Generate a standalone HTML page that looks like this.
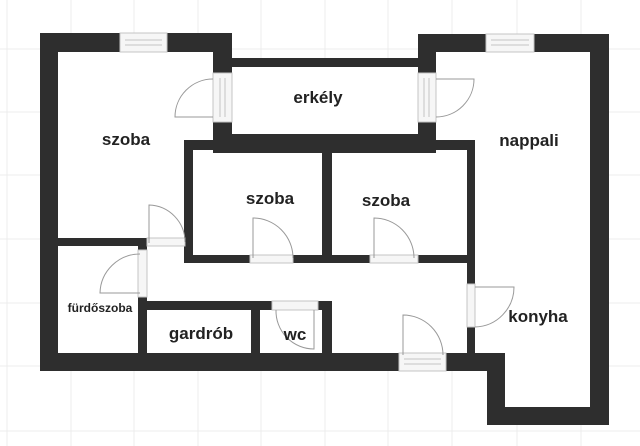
<!DOCTYPE html>
<html><head><meta charset="utf-8"><style>
html,body{margin:0;padding:0;background:#fff;}
svg{display:block;}
text{font-family:"Liberation Sans",sans-serif;font-weight:600;fill:#222;text-anchor:middle;}
</style></head><body>
<svg width="640" height="446" viewBox="0 0 640 446" xmlns="http://www.w3.org/2000/svg">
<g stroke="#ececec" stroke-width="1">
<line x1="7" y1="0" x2="7" y2="446"/><line x1="71" y1="0" x2="71" y2="446"/><line x1="134" y1="0" x2="134" y2="446"/><line x1="198" y1="0" x2="198" y2="446"/><line x1="261" y1="0" x2="261" y2="446"/><line x1="325" y1="0" x2="325" y2="446"/><line x1="388" y1="0" x2="388" y2="446"/><line x1="452" y1="0" x2="452" y2="446"/><line x1="517" y1="0" x2="517" y2="446"/><line x1="581" y1="0" x2="581" y2="446"/>
<line x1="0" y1="49" x2="640" y2="49"/><line x1="0" y1="112" x2="640" y2="112"/><line x1="0" y1="175" x2="640" y2="175"/><line x1="0" y1="239" x2="640" y2="239"/><line x1="0" y1="303" x2="640" y2="303"/><line x1="0" y1="366" x2="640" y2="366"/><line x1="0" y1="431" x2="640" y2="431"/>
</g>
<path d="M58 52 H213 V153 H436 V52 H590 V407 H505 V353 H58 Z" fill="#fff"/>
<rect x="232" y="67" width="186" height="67" fill="#fff"/>
<g fill="#2e2e2e">
<rect x="40" y="33" width="80" height="19"/><rect x="167" y="33" width="65" height="19"/>
<rect x="40" y="33" width="18" height="338"/>
<rect x="213" y="33" width="19" height="40"/><rect x="213" y="122" width="19" height="31"/>
<rect x="232" y="58" width="186" height="9"/><rect x="213" y="134" width="223" height="19"/>
<rect x="418" y="34" width="68" height="18"/><rect x="534" y="34" width="75" height="18"/>
<rect x="418" y="34" width="18" height="39"/><rect x="418" y="122" width="18" height="31"/>
<rect x="590" y="34" width="19" height="391"/>
<rect x="487" y="407" width="122" height="18"/><rect x="487" y="353" width="18" height="72"/>
<rect x="40" y="353" width="359" height="18"/><rect x="446" y="353" width="59" height="18"/>
<rect x="184" y="140" width="291" height="10"/>
<rect x="184" y="140" width="9" height="123"/>
<rect x="322" y="140" width="10" height="123"/>
<rect x="467" y="140" width="8" height="144"/><rect x="467" y="327" width="8" height="30"/>
<rect x="184" y="255" width="66" height="8"/><rect x="293" y="255" width="77" height="8"/><rect x="418" y="255" width="57" height="8"/>
<rect x="58" y="238" width="89" height="8"/>
<rect x="138" y="238" width="9" height="12"/><rect x="138" y="297" width="9" height="56"/>
<rect x="138" y="301" width="134" height="9"/><rect x="318" y="301" width="14" height="9"/>
<rect x="251" y="301" width="9" height="52"/><rect x="322" y="301" width="10" height="52"/>
</g>
<g fill="#f6f6f6" stroke="#c4c4c4" stroke-width="1">
<rect x="120" y="33" width="47" height="19"/><rect x="486" y="34" width="48" height="18"/>
<rect x="213" y="73" width="19" height="49"/><rect x="418" y="73" width="18" height="49"/>
<rect x="147" y="238" width="38" height="8"/><rect x="138" y="250" width="9" height="47"/>
<rect x="250" y="255" width="43" height="8"/><rect x="370" y="255" width="48" height="8"/>
<rect x="272" y="301" width="46" height="9"/><rect x="399" y="353" width="47" height="18"/>
<rect x="467" y="284" width="8" height="43"/>
</g>
<g stroke="#c4c4c4" stroke-width="1">
<line x1="125" y1="40" x2="162" y2="40"/><line x1="125" y1="45" x2="162" y2="45"/>
<line x1="491" y1="40" x2="529" y2="40"/><line x1="491" y1="45" x2="529" y2="45"/>
<line x1="220" y1="78" x2="220" y2="117"/><line x1="225" y1="78" x2="225" y2="117"/>
<line x1="424" y1="78" x2="424" y2="117"/><line x1="429" y1="78" x2="429" y2="117"/>
<line x1="404" y1="359" x2="441" y2="359"/><line x1="404" y1="364" x2="441" y2="364"/>
</g>
<g fill="none" stroke="#999" stroke-width="1">
<path d="M213 117 H175 A38 38 0 0 1 213 79"/>
<path d="M436 79 H474 A38 38 0 0 1 436 117"/>
<path d="M149 243 V205 A37 37 0 0 1 185 242"/>
<path d="M253 258 V218 A40 40 0 0 1 293 258"/>
<path d="M374 258 V218 A40 40 0 0 1 414 258"/>
<path d="M140 293 H100 A40 40 0 0 1 140 254"/>
<path d="M314 310 V349 A38 38 0 0 1 276 310"/>
<path d="M403 355 V315 A40 40 0 0 1 443 355"/>
<path d="M475 287 H514 A40 40 0 0 1 475 327"/>
</g>
<text x="126" y="145" font-size="17">szoba</text>
<text x="318" y="103" font-size="17">erkély</text>
<text x="529" y="146" font-size="17">nappali</text>
<text x="270" y="204" font-size="17">szoba</text>
<text x="386" y="206" font-size="17">szoba</text>
<text x="100" y="312" font-size="12" font-weight="normal">fürdőszoba</text>
<text x="201" y="339" font-size="17">gardrób</text>
<text x="295" y="340" font-size="17">wc</text>
<text x="538" y="322" font-size="17">konyha</text>
</svg>
</body></html>
